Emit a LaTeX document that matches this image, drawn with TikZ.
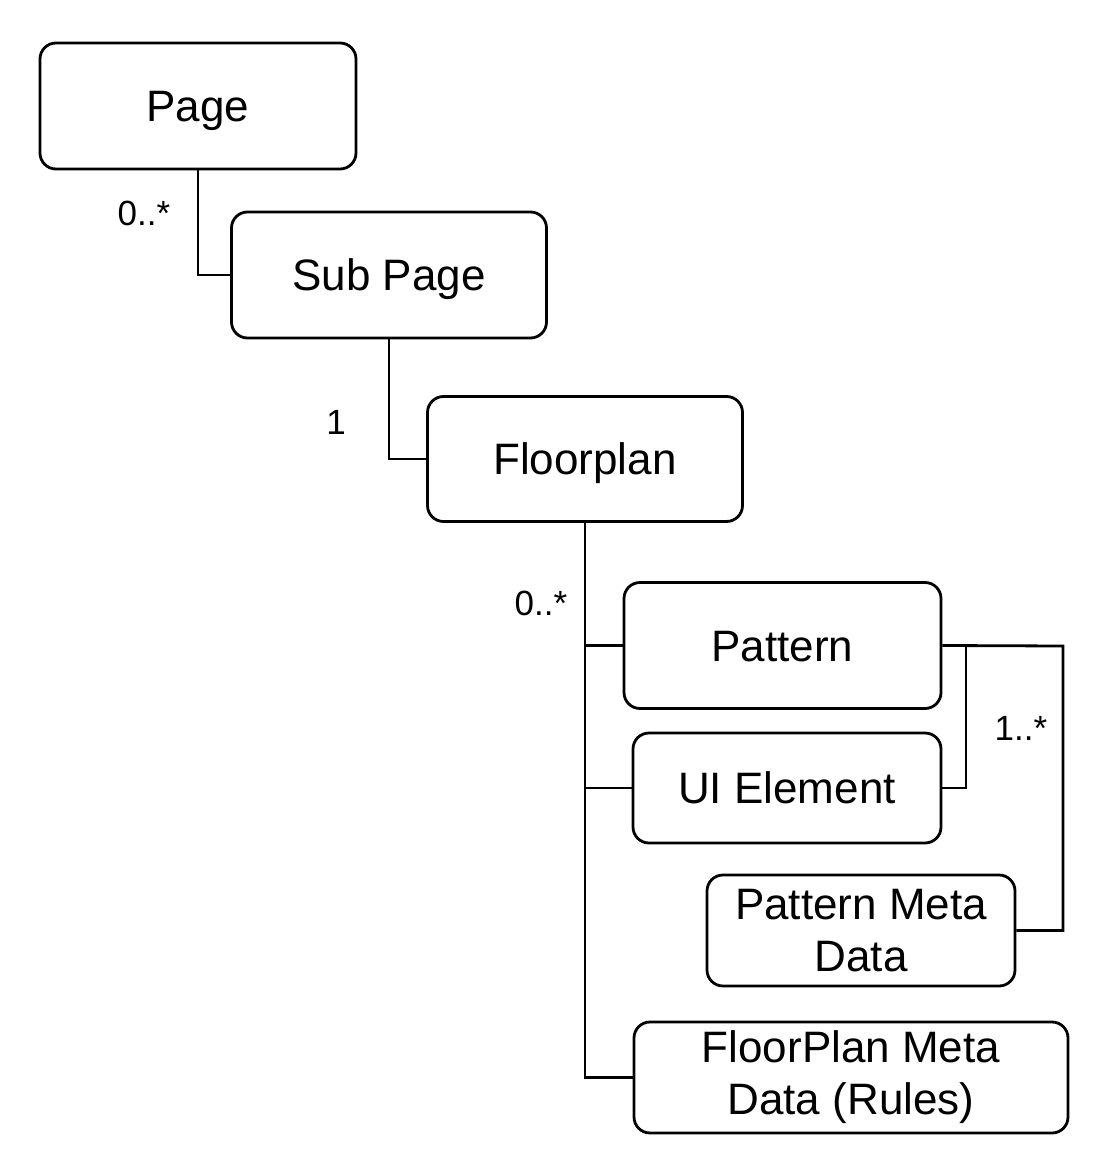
\documentclass[tikz,border=0pt]{standalone}
\usepackage{fontspec}
\setmainfont{Liberation Sans}
\begin{document}
\begin{tikzpicture}[x=1pt,y=-1pt,
  box/.style={draw,line width=2.8pt,rounded corners=16pt,inner sep=0pt,align=center,
    font=\fontsize{44}{52}\selectfont},
  onebox/.style={box,text height=31.5pt,text depth=0pt},
  lbl/.style={font=\fontsize{35}{40}\selectfont,inner sep=0pt},
  conn/.style={line width=2.8pt}]
\useasboundingbox (0,0) rectangle (1111,1174);
\fill[white] (0,0) rectangle (1111,1174);
\node[onebox,minimum width=316pt,minimum height=126pt] (page) at (198,106) {Page};
\node[onebox,minimum width=315pt,minimum height=126pt] (sub) at (389,275) {Sub Page};
\node[onebox,minimum width=315pt,minimum height=125pt] (fp) at (585,459) {Floorplan};
\node[onebox,minimum width=317pt,minimum height=126pt] (pat) at (782.5,645.5) {Pattern};
\node[onebox,minimum width=308pt,minimum height=110pt] (ui) at (787,788) {UI Element};
\node[box,minimum width=308pt,minimum height=111pt] (pmeta) at (861,930.5) {Pattern Meta\\Data};
\node[box,minimum width=434pt,minimum height=111pt] (fpmeta) at (851,1077.5) {FloorPlan Meta\\Data (Rules)};
\coordinate (rb) at (1063,646);
\coordinate (jn) at (966,646);
\draw[conn] (page.south) |- (sub.west);
\draw[conn] (sub.south) |- (fp.west);
\draw[conn] (fp.south) |- (pat.west);
\draw[conn] (fp.south) |- (ui.west);
\draw[conn] (fp.south) |- (fpmeta.west);
\draw[conn] (pat.east) -- (rb) |- (pmeta.east);
\draw[conn] (ui.east) -| (jn);
\node[lbl] (l1) at (144,213) {0..*};
\node[lbl] (l2) at (336,422) {1};
\node[lbl] (l3) at (541,603) {0..*};
\node[lbl] (l4) at (1021,728) {1..*};
\end{tikzpicture}
\end{document}
